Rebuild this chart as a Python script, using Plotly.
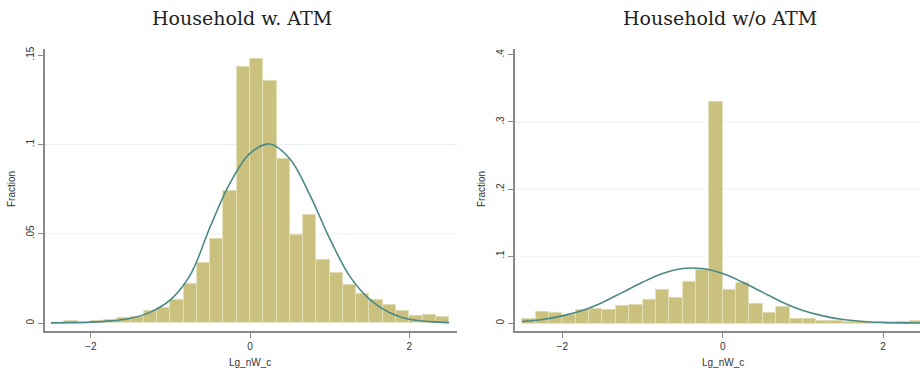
import numpy as np
import plotly.graph_objects as go

# ---------------- data ----------------
bin_width = 1 / 6
bin_left_edges = [-2.5 + i / 6 for i in range(30)]

frac_with_atm = [0.0004, 0.0013, 0.0004, 0.0013, 0.0019, 0.0028, 0.0037, 0.0071,
                 0.0089, 0.0134, 0.0220, 0.0341, 0.0470, 0.0740, 0.1435, 0.1478,
                 0.1357, 0.0922, 0.0494, 0.0606, 0.0354, 0.0280, 0.0214, 0.0164,
                 0.0134, 0.0102, 0.0071, 0.0041, 0.0047, 0.0034]

frac_without_atm = [0.0064, 0.0174, 0.0160, 0.0124, 0.0208, 0.0223, 0.0208, 0.0258,
                    0.0273, 0.0347, 0.0496, 0.0387, 0.0620, 0.0793, 0.3307, 0.0506,
                    0.0610, 0.0297, 0.0164, 0.0248, 0.0074, 0.0064, 0.0040, 0.0035,
                    0.0025, 0.0020, 0.0010, 0.0010, 0.0020, 0.0030]

curve_x = [-2.5, -2.25, -2.0, -1.75, -1.5, -1.25, -1.0, -0.75, -0.5, -0.25, 0.0,
           0.25, 0.5, 0.75, 1.0, 1.25, 1.5, 1.75, 2.0, 2.25, 2.5]
curve_with_atm = [0.0002, 0.0003, 0.0006, 0.0013, 0.0028, 0.0062, 0.0130, 0.0270,
                  0.0540, 0.0785, 0.0950, 0.1003, 0.0920, 0.0720, 0.0475, 0.0265,
                  0.0135, 0.0060, 0.0022, 0.0009, 0.0003]
curve_without_atm = [0.0027, 0.0057, 0.0110, 0.0190, 0.0310, 0.0460, 0.0610, 0.0740,
                     0.0815, 0.0815, 0.0740, 0.0610, 0.0460, 0.0310, 0.0190, 0.0110,
                     0.0057, 0.0027, 0.0013, 0.0006, 0.0003]

x_tickvals = [-2, 0, 2]
x_ticktext = ["\u22122", "0", "2"]
y_left_tickvals = [0, 0.05, 0.1, 0.15]
y_left_ticktext = ["0", ".05", ".1", ".15"]
y_right_tickvals = [0, 0.1, 0.2, 0.3, 0.4]
y_right_ticktext = ["0", ".1", ".2", ".3", ".4"]

titles = ["Household w. ATM", "Household w/o ATM"]
x_title = "Lg_nW_c"
y_title = "Fraction"

# ---------------- styles ----------------
W, H = 920, 374
BAR_COLOR = "#c9c17d"
BAR_LINE = "#e4e0bb"
CURVE_COLOR = "#4a8985"
AXIS_COLOR = "#8a8a8a"
GRID_COLOR = "#e9f0f4"
TICK_FONT = dict(family="Liberation Sans, Arial, sans-serif", size=10, color="#333333")
TITLE_FONT = dict(family="DejaVu Serif, Liberation Serif, serif", size=19, color="#222222")

centers = [e + bin_width / 2 for e in bin_left_edges]

fig = go.Figure()
fig.add_trace(go.Bar(x=centers, y=frac_with_atm, width=bin_width,
                     marker=dict(color=BAR_COLOR, line=dict(color=BAR_LINE, width=0.8)),
                     xaxis="x", yaxis="y", showlegend=False))
fig.add_trace(go.Scatter(x=curve_x, y=curve_with_atm, mode="lines", line_shape="spline",
                         line=dict(color=CURVE_COLOR, width=1.6),
                         xaxis="x", yaxis="y", showlegend=False))
fig.add_trace(go.Bar(x=centers, y=frac_without_atm, width=bin_width,
                     marker=dict(color=BAR_COLOR, line=dict(color=BAR_LINE, width=0.8)),
                     xaxis="x2", yaxis="y2", showlegend=False))
fig.add_trace(go.Scatter(x=curve_x, y=curve_without_atm, mode="lines", line_shape="spline",
                         line=dict(color=CURVE_COLOR, width=1.6),
                         xaxis="x2", yaxis="y2", showlegend=False))

ydom = [(H - 331) / H, (H - 47) / H]

common_x = dict(tickvals=x_tickvals, ticktext=x_ticktext, ticks="outside", ticklen=5,
                tickcolor=AXIS_COLOR, tickwidth=1, showline=True, linecolor=AXIS_COLOR,
                linewidth=1.6, showgrid=False, zeroline=False, tickfont=TICK_FONT)
common_y = dict(ticks="outside", ticklen=5, tickcolor=AXIS_COLOR, tickwidth=1,
                showline=True, linecolor=AXIS_COLOR, linewidth=1.6, showgrid=False,
                zeroline=False, tickfont=TICK_FONT, tickangle=-90, domain=ydom)

fig.update_layout(
    width=W, height=H,
    margin=dict(l=0, r=0, t=0, b=0),
    paper_bgcolor="white", plot_bgcolor="white",
    bargap=0,
    xaxis=dict(domain=[45 / W, 457 / W], range=[-2.575, 2.60], anchor="y", **common_x),
    yaxis=dict(range=[-0.0045, 0.1536], tickvals=y_left_tickvals, ticktext=y_left_ticktext,
               anchor="x", **common_y),
    xaxis2=dict(domain=[515 / W, 1.0], range=[-2.59, 2.46], anchor="y2", **common_x),
    yaxis2=dict(range=[-0.0119, 0.4092], tickvals=y_right_tickvals, ticktext=y_right_ticktext,
                anchor="x2", **common_y),
)

# light grid lines (Stata style: none at axis limits)
shapes = []
for yv in y_left_tickvals[1:-1]:
    shapes.append(dict(type="line", xref="x domain", yref="y", x0=0, x1=1, y0=yv, y1=yv,
                       line=dict(color=GRID_COLOR, width=1), layer="below"))
for yv in y_right_tickvals[1:-1]:
    shapes.append(dict(type="line", xref="x2 domain", yref="y2", x0=0, x1=1, y0=yv, y1=yv,
                       line=dict(color=GRID_COLOR, width=1), layer="below"))
fig.update_layout(shapes=shapes)

ann = []
for cx, t in zip([242, 720], titles):
    ann.append(dict(text=t, x=cx / W, y=1 - 16 / H, xref="paper", yref="paper",
                    showarrow=False, xanchor="center", yanchor="middle", font=TITLE_FONT))
for cx in [250, 723]:
    ann.append(dict(text=x_title, x=cx / W, y=1 - 362 / H, xref="paper", yref="paper",
                    showarrow=False, xanchor="center", yanchor="middle", font=TICK_FONT))
for cx in [12, 482]:
    ann.append(dict(text=y_title, x=cx / W, y=1 - 188 / H, xref="paper", yref="paper",
                    showarrow=False, xanchor="center", yanchor="middle", textangle=-90,
                    font=TICK_FONT))
fig.update_layout(annotations=ann)

fig.write_html("out.html", config={"displayModeBar": False},
               post_script="document.body.style.margin='0';")
